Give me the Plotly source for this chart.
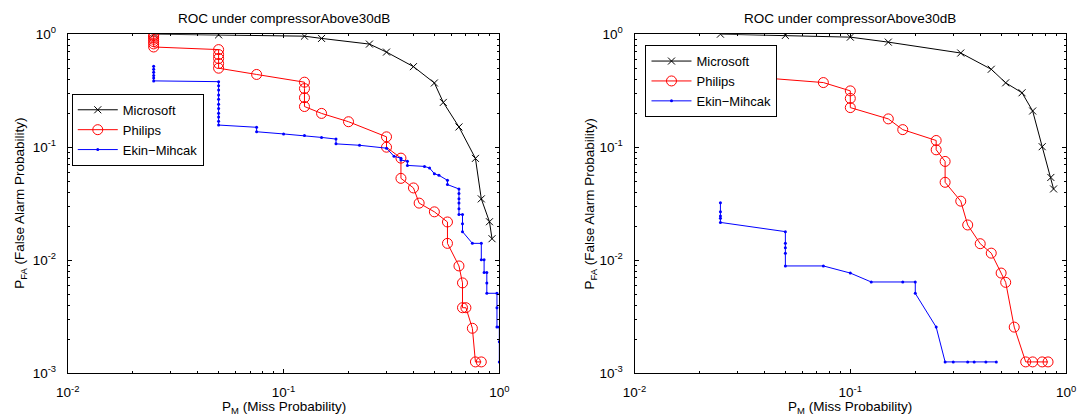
import plotly.graph_objects as go

# ---------------- data ----------------
title_text = "ROC under compressorAbove30dB"
series_names = ["Microsoft", "Philips", "Ekin\u2212Mihcak"]

# Left panel
ms_left_x = [0.025, 0.05, 0.125, 0.15, 0.25, 0.3, 0.4, 0.5, 0.55, 0.65, 0.775, 0.825, 0.9, 0.925]
ms_left_y = [1.0, 0.986, 0.96, 0.917, 0.817, 0.694, 0.516, 0.37, 0.249, 0.151, 0.0796, 0.0349, 0.0219, 0.0155]

ph_left_x = [0.025, 0.025, 0.025, 0.025, 0.025, 0.025, 0.025,
             0.05, 0.05, 0.05, 0.05, 0.05,
             0.075,
             0.125, 0.125, 0.125, 0.125,
             0.15, 0.2, 0.3, 0.3, 0.35, 0.35, 0.4, 0.425, 0.5, 0.575, 0.575,
             0.65, 0.675, 0.675, 0.7, 0.75, 0.775, 0.825]
ph_left_y = [1.0, 0.97, 0.94, 0.9, 0.86, 0.82, 0.77,
             0.73, 0.66, 0.61, 0.55, 0.5,
             0.44,
             0.376, 0.33, 0.274, 0.229,
             0.199, 0.168, 0.1235, 0.1, 0.08, 0.053, 0.0436, 0.032, 0.0268, 0.0218, 0.0141,
             0.0089, 0.0063, 0.0038, 0.0038, 0.0025, 0.00126, 0.00126]

ek_left_x = [0.025, 0.025, 0.025, 0.025, 0.025, 0.025,
             0.05, 0.05, 0.05, 0.05, 0.05, 0.05, 0.05, 0.05, 0.05, 0.05, 0.05,
             0.075, 0.075, 0.1, 0.125, 0.15, 0.175, 0.175, 0.225, 0.3, 0.325,
             0.35, 0.35, 0.375, 0.375, 0.45, 0.475, 0.5, 0.525, 0.575, 0.575,
             0.65, 0.65, 0.65, 0.65, 0.65, 0.65, 0.675, 0.675, 0.675, 0.75, 0.825, 0.825,
             0.85, 0.85, 0.875, 0.875, 0.875, 0.975, 0.975, 0.975, 1.0, 1.0, 1.0]
ek_left_y = [0.52, 0.49, 0.46, 0.43, 0.41, 0.386,
             0.38, 0.35, 0.32, 0.29, 0.265, 0.24, 0.22, 0.2, 0.185, 0.17, 0.157,
             0.15, 0.137, 0.131, 0.127, 0.122, 0.118, 0.107, 0.104, 0.098, 0.083,
             0.08, 0.077, 0.075, 0.069, 0.0676, 0.0654, 0.0583, 0.0564, 0.0509, 0.0467,
             0.0427, 0.039, 0.035, 0.032, 0.0285, 0.0254, 0.0254, 0.021, 0.0179, 0.0141, 0.0141, 0.0101,
             0.0101, 0.0078, 0.0078, 0.0063, 0.0051, 0.0051, 0.0038, 0.00256, 0.00256, 0.0019, 0.00126]

# Right panel
ms_right_x = [0.025, 0.05, 0.1, 0.15, 0.325, 0.45, 0.525, 0.625, 0.7, 0.775, 0.85, 0.875]
ms_right_y = [1.0, 0.974, 0.941, 0.85, 0.681, 0.489, 0.371, 0.303, 0.209, 0.101, 0.054, 0.0427]

ph_right_x = [0.025, 0.075, 0.1, 0.1, 0.1, 0.15, 0.175, 0.25, 0.25, 0.275, 0.275, 0.325,
              0.35, 0.4, 0.45, 0.5, 0.525, 0.575, 0.65, 0.7, 0.775, 0.825]
ph_right_y = [0.44, 0.373, 0.315, 0.27, 0.224, 0.178, 0.143, 0.1146, 0.0948, 0.0748, 0.0489, 0.0333,
              0.0205, 0.014, 0.01155, 0.0077, 0.00637, 0.00256, 0.00126, 0.00126, 0.00126, 0.00126]

ek_right_x = [0.025, 0.025, 0.025, 0.025, 0.025,
              0.05, 0.05, 0.05, 0.05, 0.05,
              0.075, 0.1, 0.125, 0.175, 0.2, 0.2, 0.25, 0.275, 0.3, 0.35, 0.375, 0.425, 0.475]
ek_right_y = [0.0322, 0.0268, 0.0246, 0.0235, 0.0216,
              0.0179, 0.0141, 0.0129, 0.0115, 0.0089,
              0.0089, 0.0077, 0.00642, 0.00642, 0.00642, 0.00509, 0.00256, 0.00126, 0.00126,
              0.00126, 0.00126, 0.00126, 0.00126]

x_tick_vals = [0.01, 0.1, 1]
x_tick_text = ["10<sup>-2</sup>", "10<sup>-1</sup>", "10<sup>0</sup>"]
y_tick_vals = [0.001, 0.01, 0.1, 1]
y_tick_text = ["10<sup>-3</sup>", "10<sup>-2</sup>", "10<sup>-1</sup>", "10<sup>0</sup>"]
x_minor_vals = [2e-2, 3e-2, 4e-2, 5e-2, 6e-2, 7e-2, 8e-2, 9e-2,
                0.2, 0.3, 0.4, 0.5, 0.6, 0.7, 0.8, 0.9]
y_minor_vals = [2e-3, 3e-3, 4e-3, 5e-3, 6e-3, 7e-3, 8e-3, 9e-3,
                2e-2, 3e-2, 4e-2, 5e-2, 6e-2, 7e-2, 8e-2, 9e-2,
                0.2, 0.3, 0.4, 0.5, 0.6, 0.7, 0.8, 0.9]

# ---------------- figure ----------------
FONT = "Liberation Sans, Arial, Helvetica, sans-serif"
OFF = 8                        # page body margin
SX, SY = 1082 / 1098, 418 / 434  # observed capture scaling
W, H = 1090, 426


def fx(X):
    return X / SX - OFF


def fy(Y):
    return Y / SY - OFF


def px(X):
    return fx(X) / W


def py(Y):
    return 1 - fy(Y) / H


fig = go.Figure()

styles = [
    dict(color="black", marker=dict(symbol="x-thin-open", size=7, line=dict(width=1, color="black"))),
    dict(color="red", marker=dict(symbol="circle-open", size=10, color="red", line=dict(width=1, color="red"))),
    dict(color="blue", marker=dict(symbol="circle", size=3, color="blue")),
]

panels = [
    ("x", "y", "legend", [(ms_left_x, ms_left_y), (ph_left_x, ph_left_y), (ek_left_x, ek_left_y)]),
    ("x2", "y2", "legend2", [(ms_right_x, ms_right_y), (ph_right_x, ph_right_y), (ek_right_x, ek_right_y)]),
]

for xa, ya, lg, data in panels:
    for (xs, ys), name, st in zip(data, series_names, styles):
        fig.add_trace(go.Scatter(
            x=xs, y=ys, mode="lines+markers", name=name,
            line=dict(color=st["color"], width=1),
            marker=st["marker"],
            xaxis=xa, yaxis=ya, legend=lg, showlegend=True,
        ))

y_dom = [py(373), py(32)]
left_dom = [px(64), px(498)]
right_dom = [px(634), px(1068)]

common_x = dict(type="log", range=[-2, 0], tickmode="array", tickvals=x_tick_vals,
                ticktext=x_tick_text, ticks="inside", ticklen=4, tickcolor="black",
                showline=True, linecolor="black", linewidth=1, mirror="allticks",
                showgrid=False, zeroline=False, ticklabelstandoff=7,
                tickfont=dict(family=FONT, size=13.5, color="black"),
                minor=dict(tickmode="array", tickvals=x_minor_vals, ticks="inside",
                           ticklen=2, tickcolor="black", showgrid=False))
common_y = dict(type="log", range=[-3, 0], tickmode="array", tickvals=y_tick_vals,
                ticktext=y_tick_text, ticks="inside", ticklen=4, tickcolor="black",
                showline=True, linecolor="black", linewidth=1, mirror="allticks",
                showgrid=False, zeroline=False, ticklabelstandoff=8,
                tickfont=dict(family=FONT, size=13.5, color="black"),
                minor=dict(tickmode="array", tickvals=y_minor_vals, ticks="inside",
                           ticklen=2, tickcolor="black", showgrid=False))

legend_common = dict(bgcolor="white", bordercolor="black", borderwidth=1,
                     font=dict(family=FONT, size=13, color="black"),
                     xanchor="left", yanchor="top", itemwidth=40,
                     tracegroupgap=0)

fig.update_layout(
    width=W, height=H,
    margin=dict(l=0, r=0, t=0, b=0),
    paper_bgcolor="white", plot_bgcolor="white",
    font=dict(family=FONT, size=13, color="black"),
    xaxis=dict(domain=left_dom, anchor="y", **common_x),
    yaxis=dict(domain=y_dom, anchor="x", **common_y),
    xaxis2=dict(domain=right_dom, anchor="y2", **common_x),
    yaxis2=dict(domain=y_dom, anchor="x2", **common_y),
    legend=dict(x=px(68), y=py(92), **legend_common),
    legend2=dict(x=px(645), y=py(43), **legend_common),
)

annotations = []
for (x0, x1) in ((64, 498), (634, 1068)):
    cx = px((x0 + x1) / 2)
    annotations.append(dict(text=title_text, x=cx, y=py(16.5), xref="paper", yref="paper",
                            showarrow=False, xanchor="center", yanchor="middle",
                            font=dict(family=FONT, size=13.5, color="black")))
    annotations.append(dict(text="P<sub>M</sub> (Miss Probability)", x=cx, y=py(407.5),
                            xref="paper", yref="paper", showarrow=False,
                            xanchor="center", yanchor="middle",
                            font=dict(family=FONT, size=13.5, color="black")))
for lx in (17, 590):
    annotations.append(dict(text="P<sub>FA</sub> (False Alarm Probability)", x=px(lx),
                            y=(y_dom[0] + y_dom[1]) / 2, xref="paper", yref="paper",
                            showarrow=False, textangle=-90, xanchor="center", yanchor="middle",
                            font=dict(family=FONT, size=13.5, color="black")))
fig.update_layout(annotations=annotations)

fig.write_html("out.html")
